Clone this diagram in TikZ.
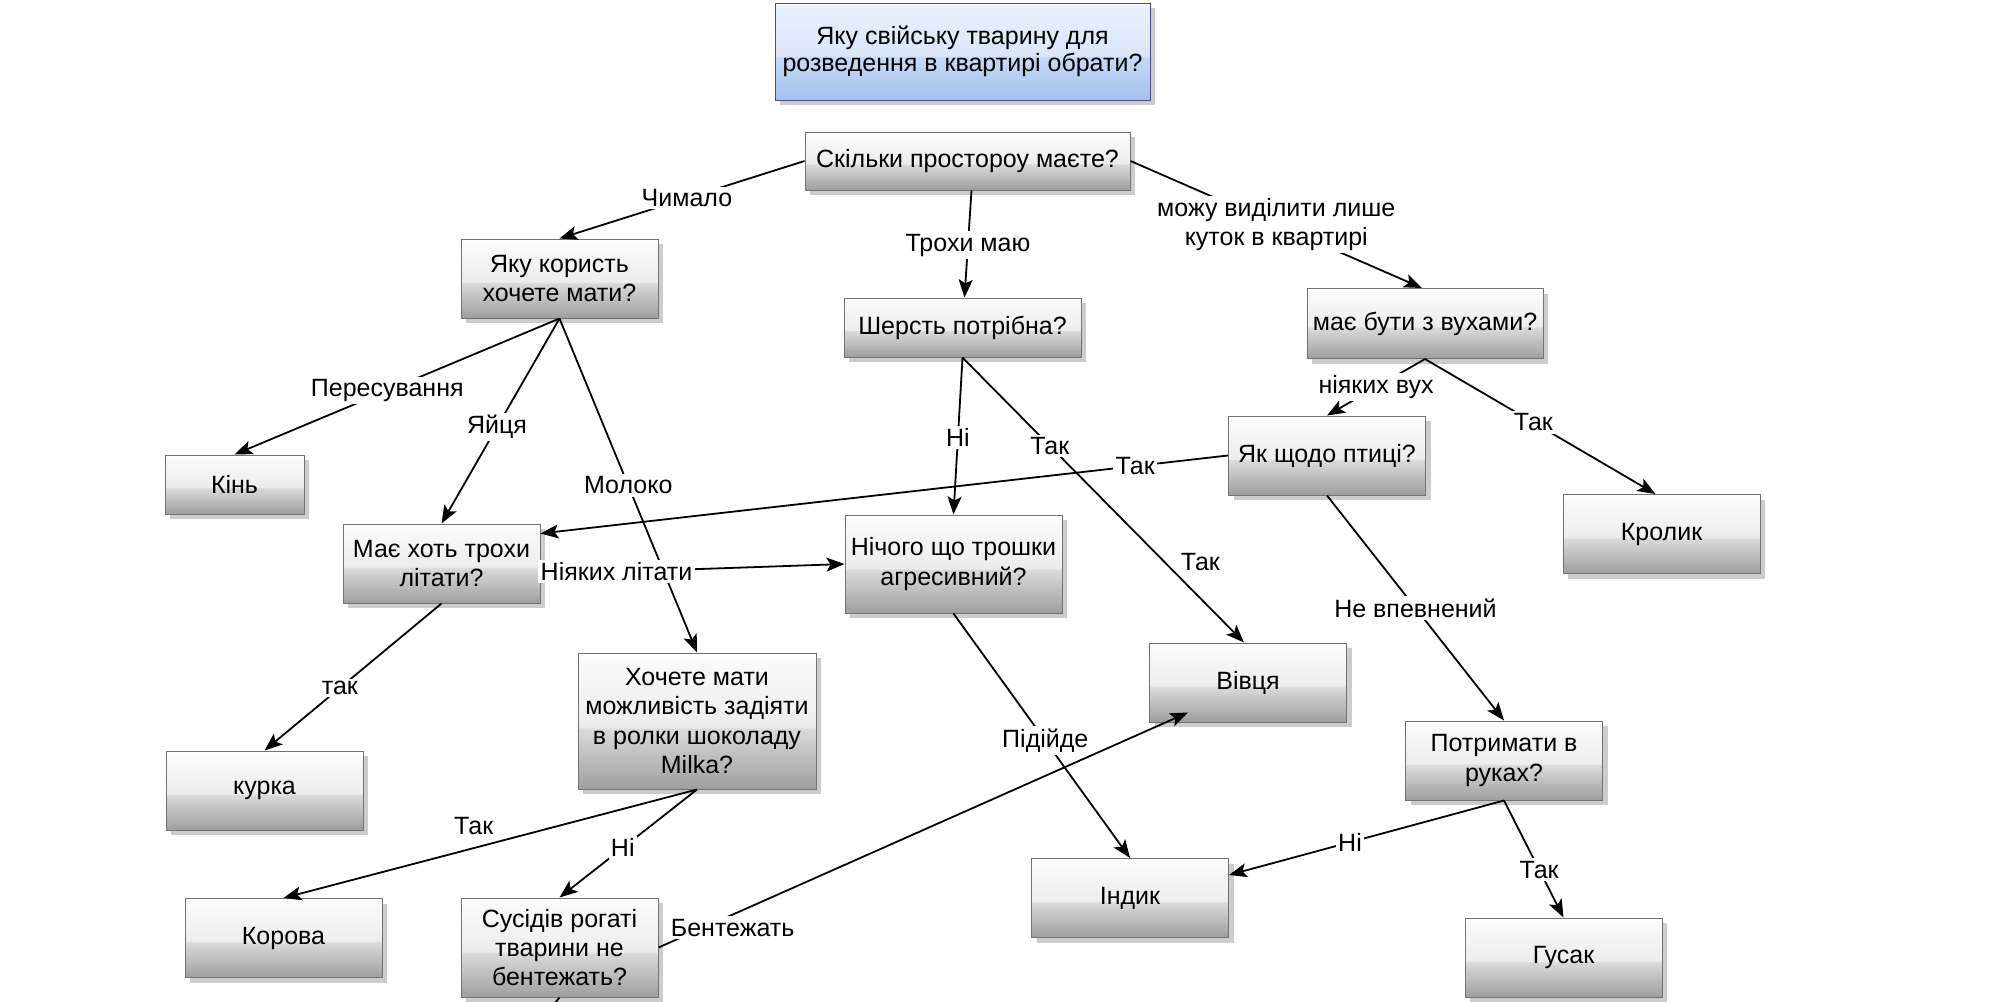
\documentclass[tikz,border=0pt]{standalone}
\usepackage{fontspec}
\setmainfont{Liberation Sans}
\usetikzlibrary{arrows.meta,shadows}

% glossy grey fill of the decision boxes
\definecolor{gBot}{HTML}{9E9E9E}
\definecolor{gMid}{HTML}{DADADA}
\definecolor{gBand}{HTML}{EDEDED}
\definecolor{gTop}{HTML}{FAFAFA}
\definecolor{gEdge}{HTML}{FFFFFF}
\pgfdeclareverticalshading{glossgray}{100bp}{color(0bp)=(gBot); color(25bp)=(gBot); color(47bp)=(gMid); color(48bp)=(gBand); color(72bp)=(gTop); color(75bp)=(gEdge); color(100bp)=(gEdge)}

% glossy blue fill of the title box
\definecolor{bBot}{HTML}{A3C2EE}
\definecolor{bMid}{HTML}{C6DAF6}
\definecolor{bBand}{HTML}{DAE7F9}
\definecolor{bTop}{HTML}{E8F0FC}
\pgfdeclareverticalshading{glossblue}{100bp}{color(0bp)=(bBot); color(25bp)=(bBot); color(47bp)=(bMid); color(48bp)=(bBand); color(73bp)=(bTop); color(75bp)=(white); color(100bp)=(white)}

\tikzset{
  txt/.style={font=\fontsize{12.5}{14.6}\selectfont, align=center},
  box/.style={txt, draw=black!55, line width=0.5pt, shading=glossgray,
    general shadow={shadow xshift=2.6pt, shadow yshift=-2.6pt, fill=black!20},
    inner sep=1pt, minimum width=98.5pt, minimum height=39.5pt},
  titlebox/.style={box, shading=glossblue, draw=black!45!blue!40!gray,
    font=\fontsize{12.5}{13.6}\selectfont, inner sep=0pt},
  link/.style={line width=0.9pt, -{Stealth[length=9pt,width=7pt,inset=2pt]}},
  plain/.style={line width=0.9pt},
  lbl/.style={txt, fill=white, inner sep=1.2pt},
  tag/.style={txt, inner sep=1pt}
}

\begin{document}
\begin{tikzpicture}[x=0.5pt, y=-0.5pt]
\fill[white] (0,0) rectangle (2004,1002);
\useasboundingbox (0,0) rectangle (2004,1002);

% ---- boxes ----
\node[titlebox, minimum width=187.5pt, minimum height=48.5pt] (title) at (962.5,51.5)
  {Яку свійську тварину для\\розведення в квартирі обрати?};
\node[box, minimum width=162.5pt, minimum height=29pt] (space) at (967.5,161) {Скільки простороу маєте?};
\node[box] (benefit) at (559.5,278.5) {Яку користь\\хочете мати?};
\node[box, minimum width=118.5pt, minimum height=29.5pt] (wool) at (962.5,327.5) {Шерсть потрібна?};
\node[box, minimum width=118pt, minimum height=35pt] (ears) at (1425,323.5) {має бути з вухами?};
\node[box] (bird) at (1327,455.5) {Як щодо птиці?};
\node[box] (rabbit) at (1661.5,534) {Кролик};
\node[box, minimum width=69.5pt, minimum height=29.5pt] (horse) at (234.5,484.5) {Кінь};
\node[box] (fly) at (441.5,563.5) {Має хоть трохи\\літати?};
\node[box, minimum width=108.5pt, minimum height=49pt] (aggr) at (953.5,564) {Нічого що трошки\\агресивний?};
\node[box, minimum width=119pt, minimum height=68pt] (milka) at (697,721)
  {Хочете мати\\можливість задіяти\\в ролки шоколаду\\Milka?};
\node[box] (sheep) at (1248,682.5) {Вівця};
\node[box] (turkey) at (1130,898) {Індик};
\node[box] (hold) at (1504,760.5) {Потримати в\\руках?};
\node[box] (goose) at (1563.5,957.5) {Гусак};
\node[box] (hen) at (264.5,790.5) {курка};
\node[box] (cow) at (283.5,938) {Корова};
\node[box, minimum height=49.5pt] (horns) at (559.5,947.5) {Сусідів рогаті\\тварини не\\бентежать?};
\coordinate (offpage) at (554,1004);

% ---- connectors ----
\draw[link] (space.west) -- node[lbl, pos=0.48] {Чимало} (benefit.north);
\draw[link] ([xshift=2pt]space.south) -- node[lbl, pos=0.51] {Трохи маю} ([xshift=1pt]wool.north);
\draw[link] (space.east) -- node[lbl, pos=0.5] {можу виділити лише\\куток в квартирі} ([xshift=-1.5pt]ears.north);

\draw[link] (benefit.south) -- node[lbl, pos=0.53] {Пересування} (horse.north);
\draw[link] (benefit.south) -- node[lbl, pos=0.53] {Яйця} (fly.north);
\draw[link] (benefit.south) -- node[lbl, pos=0.5] {Молоко} (milka.north);

\draw[link] (wool.south) -- node[lbl, pos=0.51] {Ні} (aggr.north);
\draw[link] (wool.south) -- node[lbl, pos=0.31] {Так}
  node[tag, pos=0.717, xshift=18pt] {Так} ([xshift=-2pt]sheep.north);

\draw[link] (ears.south) -- node[lbl, pos=0.5] {ніяких вух} (bird.north);
\draw[link] (ears.south) -- node[lbl, pos=0.47] {Так} ([xshift=-3pt]rabbit.north);

\draw[link] (bird.west) -- node[lbl, pos=0.135] {Так} ([yshift=15pt]fly.east);
\draw[link] (bird.south) -- node[lbl, pos=0.5] {Не впевнений} (hold.north);

\draw[link] ([yshift=-5.5pt]fly.east) -- node[lbl, pos=0.25] {Ніяких літати} (aggr.west);
\draw[link] (fly.south) -- node[lbl, pos=0.574] {так} (hen.north);

\draw[link] (milka.south) -- node[tag, pos=0.54, yshift=11pt] {Так} (cow.north);
\draw[link] (milka.south) -- node[lbl, pos=0.54] {Ні} (horns.north);

\draw[link] (aggr.south) -- node[lbl, pos=0.52] {Підійде} (turkey.north);
\draw[link] (horns.east) -- node[lbl, pos=0.14, yshift=-6.5pt] {Бентежать}
  ([xshift=-30pt, yshift=5pt]sheep.south);
\draw[plain] (horns.south) -- (offpage);

\draw[link] (hold.south) -- node[lbl, pos=0.56] {Ні} ([yshift=11.5pt]turkey.east);
\draw[link] (hold.south) -- node[lbl, pos=0.59] {Так} (goose.north);
\end{tikzpicture}
\end{document}
